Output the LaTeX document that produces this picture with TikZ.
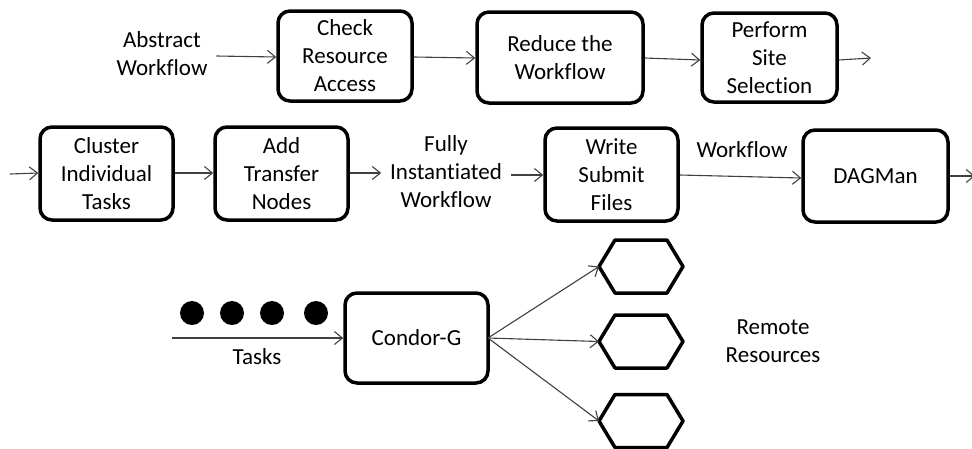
\documentclass[tikz,border=0pt]{standalone}
\usepackage{fontspec}
\setmainfont{Carlito}[RawFeature={-liga;-clig}]
\usetikzlibrary{arrows.meta}
\begin{document}
\begin{tikzpicture}[x=1pt,y=-1pt,
  every node/.style={font=\fontsize{23}{28}\selectfont, align=center, inner sep=0pt},
  procbox/.style={draw, line width=3.5pt, rounded corners=12pt, minimum width=#1},
  procbox/.default=134pt,
  lbl/.style={outer xsep=9pt},
  flow/.style={draw=black!75, line width=1.1pt, -{Straight Barb[length=8pt,width=13pt,line width=1.1pt]}},
  dot/.style={circle, fill=black, minimum size=24pt},
  hexnode/.style={minimum width=84pt, minimum height=53pt, outer sep=0pt},
  hexline/.style={line width=3.5pt, line join=round}]
\useasboundingbox (0,0) rectangle (972,448);

% Row 1
\node[lbl] (abs) at (162,54) {Abstract\\Workflow};
\node[procbox, minimum height=90pt] (check) at (345,56) {Check\\Resource\\Access};
\node[procbox=166pt, minimum height=91pt] (reduce) at (560,57.5) {Reduce the\\Workflow};
\node[procbox=135pt, minimum height=89pt] (site) at (769.5,57.5) {Perform\\Site\\Selection};
\coordinate (out1) at (871,58);

\draw[flow] (abs.east |- 0,56) -- (check.west |- 0,57);
\draw[flow] (check.east |- 0,57) -- (reduce.west |- 0,58);
\draw[flow] (reduce.east |- 0,58) -- (site.west |- 0,60);
\draw[flow] (site.east |- 0,60) -- (out1);

% Row 2
\coordinate (in2) at (10,174);
\node[procbox=133pt, minimum height=93pt] (cluster) at (106.5,173.5) {Cluster\\Individual\\Tasks};
\node[procbox=133pt, minimum height=93pt] (transfer) at (281.5,173.5) {Add\\Transfer\\Nodes};
\node[lbl] (fully) at (446,172) {Fully\\Instantiated\\Workflow};
\node[procbox=133pt, minimum height=93pt] (write) at (611.5,174.5) {Write\\Submit\\Files};
\node[procbox=145pt, minimum height=92pt] (dag) at (875.5,176) {DAGMan};
\node[lbl] (wf) at (742,150) {Workflow};
\coordinate (out2) at (975,176);

\draw[flow] (in2) -- (cluster.west |- 0,173);
\draw[flow] (cluster.east |- 0,173) -- (transfer.west |- 0,173);
\draw[flow] (transfer.east |- 0,173) -- (fully.west |- 0,173);
\draw[flow] (fully.east |- 0,175) -- (write.west |- 0,175);
\draw[flow] (write.east |- 0,175) -- (dag.west |- 0,178);
\draw[flow] (dag.east |- 0,176) -- (out2);

% Row 3
\node[dot] (d1) at (192,313) {};
\node[dot] (d2) at (232,313) {};
\node[dot] (d3) at (272,313) {};
\node[dot] (d4) at (316,313) {};
\coordinate (tin) at (172,338);
\node[procbox=143pt, minimum height=90pt] (condor) at (416.5,338) {Condor-G};
\node (tasks) at (257,357) {Tasks};
\draw[flow] (tin) -- (condor.west |- 0,338);

\node[hexnode] (h1) at (641,266.5) {};
\node[hexnode] (h2) at (641,341.5) {};
\node[hexnode] (h3) at (641,421) {};
\foreach \h in {h1,h2,h3}{
  \draw[hexline] (\h.west) -- ([xshift=16pt]\h.north west) -- ([xshift=-16pt]\h.north east)
    -- (\h.east) -- ([xshift=-16pt]\h.south east) -- ([xshift=16pt]\h.south west) -- cycle;
}
\node (remote) at (773,341) {Remote\\Resources};

\coordinate (cr) at (488,338);
\draw[flow] (cr) -- (h1.west);
\draw[flow] (cr) -- (h2.west);
\draw[flow] (cr) -- (h3.west);
\end{tikzpicture}
\end{document}
